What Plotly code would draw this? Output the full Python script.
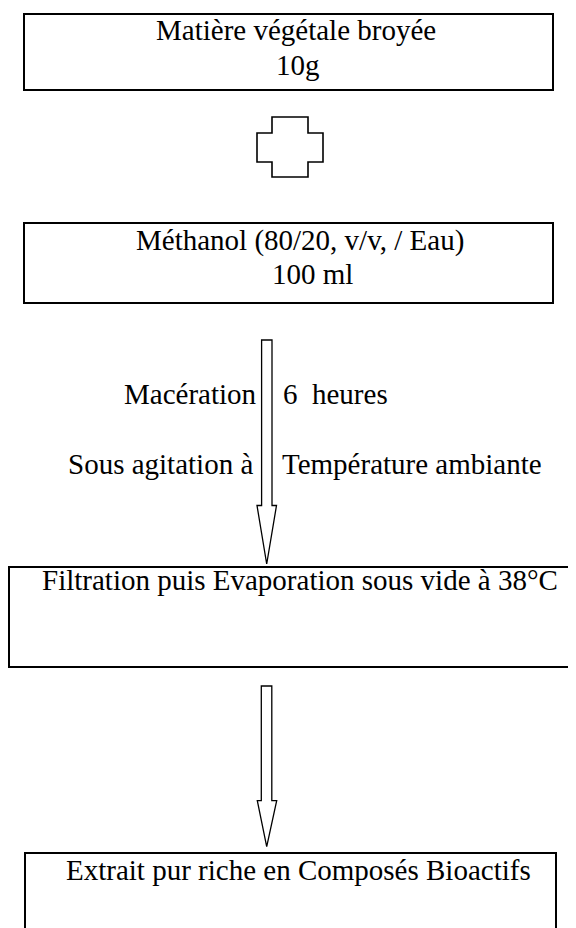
import plotly.graph_objects as go

W, H = 576, 928
PAGE_MARGIN = 8  # default body margin of the html page

# ---- content ----
box_lines = [
    ["Matière végétale broyée", "10g"],
    ["Méthanol (80/20, v/v, / Eau)", "100 ml"],
    ["Filtration puis Evaporation sous vide à 38°C"],
    ["Extrait pur riche en Composés Bioactifs"],
]
side_left = ["Macération", "Sous agitation à"]
side_right = ["6\u00a0 heures", "Température ambiante"]

# ---- geometry (pixels, y down) ----
boxes = [(24, 14, 553, 90), (24, 223, 553, 303), (9, 567, 600, 667), (25, 853, 556, 945)]
line_centers_x = [[295.5, 298], [300, 312], [300], [298]]
line_baselines = [[40, 75], [250, 284], [590], [880]]
side_baselines = [404, 474]
side_left_right_edge = [258, 253.5]
side_right_left_edge = [282, 281]

cross_x = [257, 272, 308, 323]
cross_y = [117, 133, 162, 177]

arrows = [
    # shaft_left, shaft_right, top, head_y, head_left, head_right, tip_x, tip_y
    (261.6, 272, 340, 505.5, 257, 276.5, 266.7, 564),
    (261.3, 271.8, 686, 800.7, 257.3, 276.7, 266.7, 846.7),
]

FS = 29
FONT = dict(family="Liberation Serif, Times New Roman, serif", size=FS, color="black")
BASE_OFF = 10

shapes = []
for (x0, y0, x1, y1) in boxes:
    shapes.append(dict(type="rect", xref="x", yref="y", x0=x0, y0=y0, x1=x1, y1=y1,
                       line=dict(color="black", width=2), fillcolor="rgba(0,0,0,0)"))

cx, cy = cross_x, cross_y
cross_path = (f"M {cx[1]},{cy[0]} L {cx[2]},{cy[0]} L {cx[2]},{cy[1]} L {cx[3]},{cy[1]} "
              f"L {cx[3]},{cy[2]} L {cx[2]},{cy[2]} L {cx[2]},{cy[3]} L {cx[1]},{cy[3]} "
              f"L {cx[1]},{cy[2]} L {cx[0]},{cy[2]} L {cx[0]},{cy[1]} L {cx[1]},{cy[1]} Z")
shapes.append(dict(type="path", xref="x", yref="y", path=cross_path,
                   line=dict(color="black", width=1.6)))

for (sl, sr, top, hy, hl, hr, tx, ty) in arrows:
    p = (f"M {sl},{top} L {sr},{top} L {sr},{hy} L {hr},{hy} L {tx},{ty} "
         f"L {hl},{hy} L {sl},{hy} Z")
    shapes.append(dict(type="path", xref="x", yref="y", path=p,
                       line=dict(color="black", width=1.3)))

annotations = []
for lines, xs, bs in zip(box_lines, line_centers_x, line_baselines):
    for t, x, b in zip(lines, xs, bs):
        annotations.append(dict(x=x, y=b - BASE_OFF, xref="x", yref="y", text=t,
                                showarrow=False, xanchor="center", yanchor="middle", font=FONT))
for t, x, b in zip(side_left, side_left_right_edge, side_baselines):
    annotations.append(dict(x=x, y=b - BASE_OFF, xref="x", yref="y", text=t,
                            showarrow=False, xanchor="right", yanchor="middle", font=FONT,
                            borderpad=0))
for t, x, b in zip(side_right, side_right_left_edge, side_baselines):
    annotations.append(dict(x=x, y=b - BASE_OFF, xref="x", yref="y", text=t,
                            showarrow=False, xanchor="left", yanchor="middle", font=FONT,
                            borderpad=0))

fig = go.Figure()
fig.update_layout(
    width=W, height=H,
    margin=dict(l=0, r=0, t=0, b=0),
    paper_bgcolor="white", plot_bgcolor="white",
    xaxis=dict(range=[PAGE_MARGIN, W + PAGE_MARGIN], visible=False, fixedrange=True),
    yaxis=dict(range=[H + PAGE_MARGIN, PAGE_MARGIN], visible=False, fixedrange=True),
    shapes=shapes, annotations=annotations, showlegend=False,
)
fig.write_html("out.html")
